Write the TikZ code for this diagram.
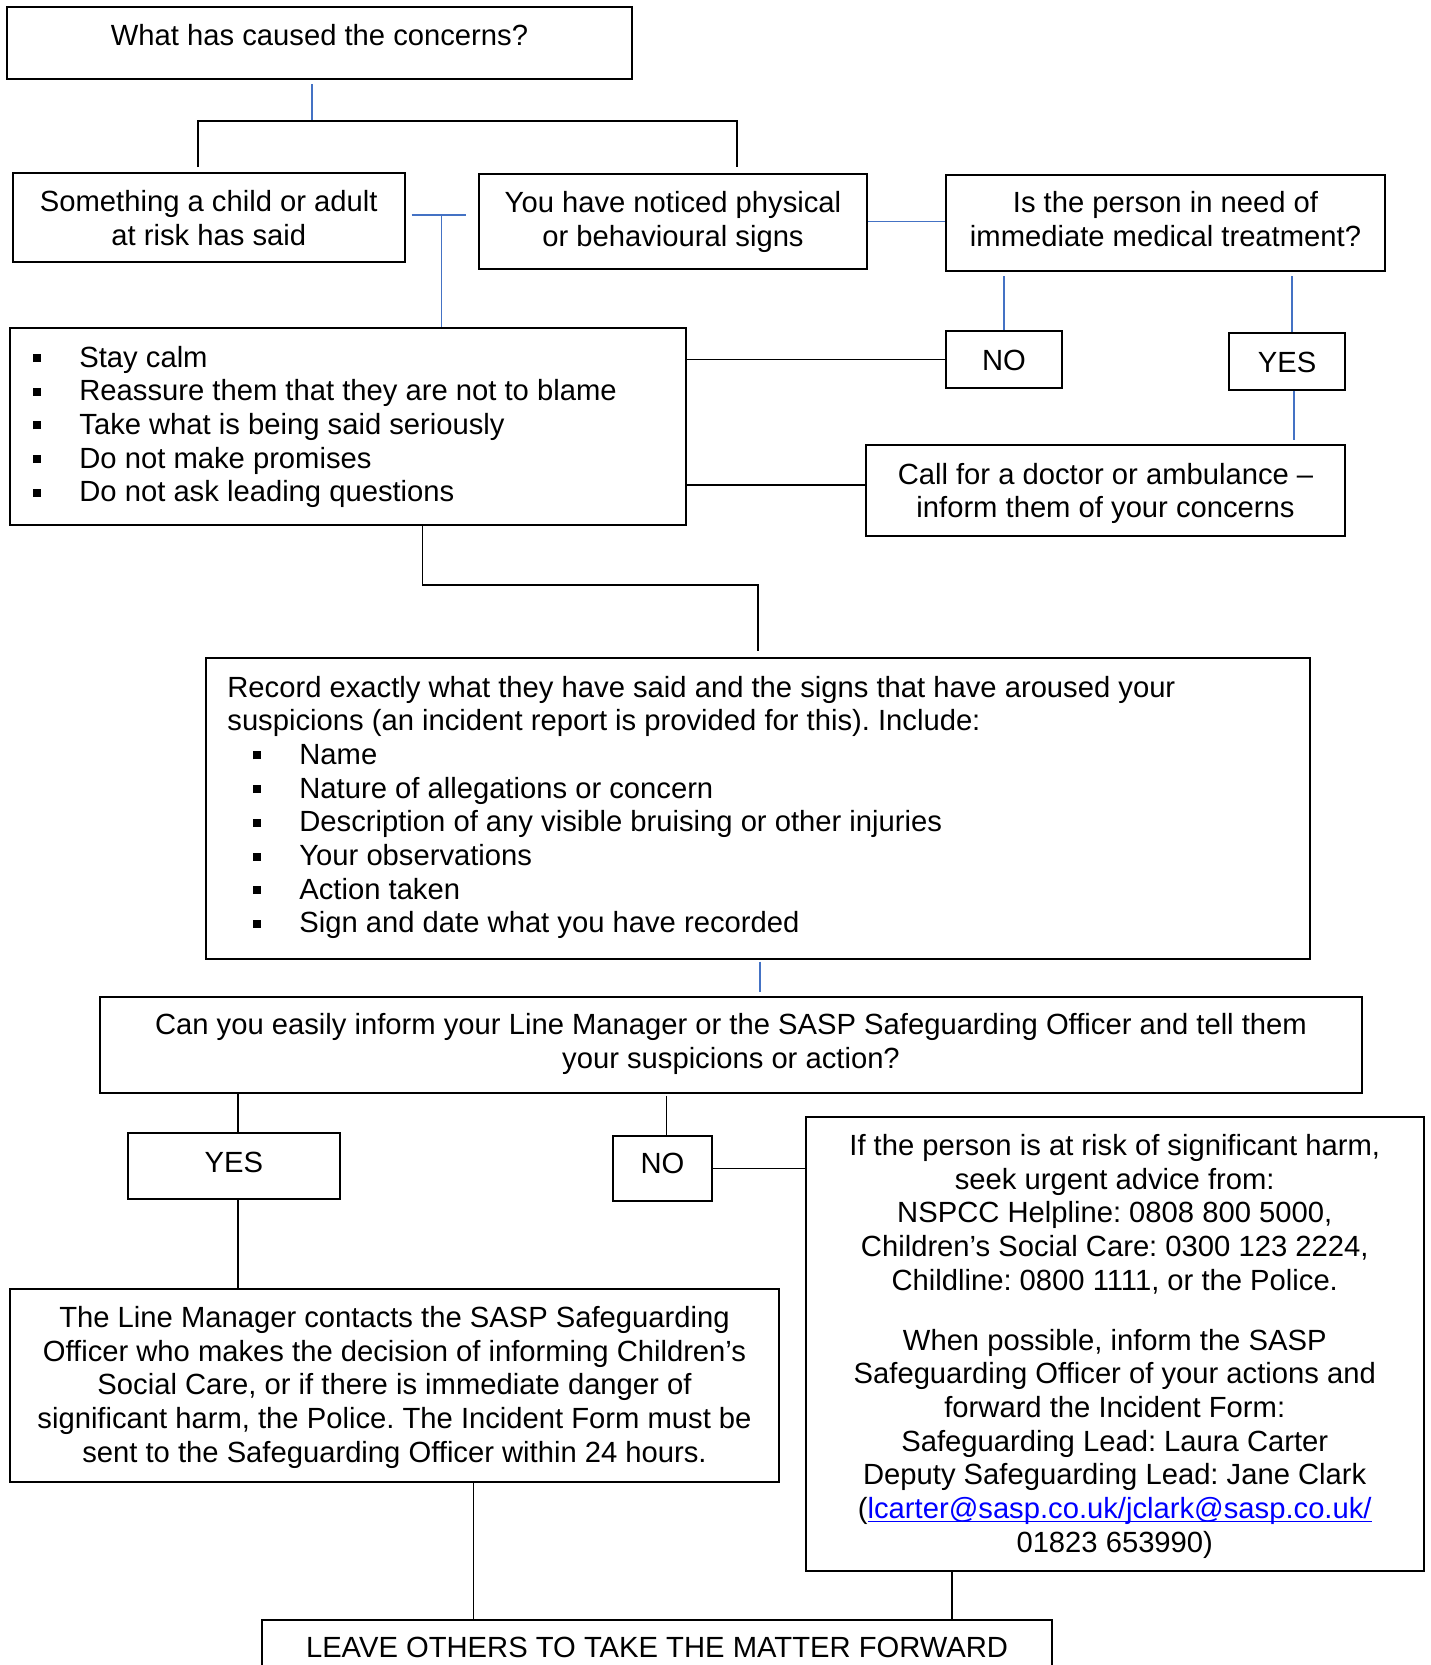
\documentclass[tikz,border=0pt]{standalone}
\usepackage{fontspec}
\setmainfont{Liberation Sans}
\usetikzlibrary{calc}
\definecolor{lineblue}{RGB}{68,114,196}
\definecolor{linkblue}{RGB}{0,0,255}
\newcommand\mlc[1]{\begin{tabular}[t]{@{}c@{}}#1\end{tabular}}
\newcommand\mll[1]{\begin{tabular}[t]{@{}l@{}}#1\end{tabular}}
\newcommand\bul{\makebox[23pt][l]{\rule[2.5pt]{4pt}{4pt}}}
\newcommand\ibul{\hspace*{13pt}\bul}
\newcommand\myul[1]{\setbox0\hbox{#1}\rlap{\rule[-1.8pt]{\wd0}{0.6pt}}\box0}
\frenchspacing
\begin{document}
\begin{tikzpicture}[x=0.5pt,y=-0.5pt,
  box/.style={draw=black, line width=1pt, inner sep=0pt},
  txt/.style={inner sep=0pt, font=\fontsize{14.6}{16.85}\selectfont, anchor=base},
  ltxt/.style={txt, anchor=base west},
  conn/.style={draw=black, line width=0.7pt},
  bconn/.style={draw=lineblue, line width=0.65pt}]
\useasboundingbox (0,0) rectangle (1430,1665);
\clip (0,0) rectangle (1430,1665);
\fill[white] (0,0) rectangle (1430,1665);

% boxes
\node[box, minimum width=312.5pt, minimum height=36pt]   (b1)   at (319.5,43) {};
\node[box, minimum width=195.75pt, minimum height=44.5pt] (b2)  at (208.75,217.5) {};
\node[box, minimum width=194pt, minimum height=47.5pt]   (b3)   at (673,221.5) {};
\node[box, minimum width=219.5pt, minimum height=48pt]   (b4)   at (1165.5,223) {};
\node[box, minimum width=58pt, minimum height=28.5pt]    (no1)  at (1004,359.5) {};
\node[box, minimum width=58pt, minimum height=28.5pt]    (yes1) at (1287,361.5) {};
\node[box, minimum width=239.5pt, minimum height=45.5pt] (call) at (1105.5,490.5) {};
\node[box, minimum width=338pt, minimum height=98.5pt]   (bl)   at (348,426.5) {};
\node[box, minimum width=552pt, minimum height=150.3pt]  (rec)  at (758,808.3) {};
\node[box, minimum width=631pt, minimum height=48.15pt]  (q)    at (731,1044.8) {};
\node[box, minimum width=106.2pt, minimum height=33pt]   (yes2) at (233.8,1166) {};
\node[box, minimum width=49.5pt, minimum height=32.65pt] (no2)  at (662.5,1168.3) {};
\node[box, minimum width=308.75pt, minimum height=226.8pt] (rt) at (1114.75,1343.8) {};
\node[box, minimum width=384.5pt, minimum height=96.5pt] (lm)   at (394.5,1385.5) {};
\node[box, minimum width=395pt, minimum height=45pt]     (leave) at (657,1665) {};

% texts
\node[txt] (t1) at (319.5,45) {What has caused the concerns?};
\node[txt] (t2) at (208.75,211.7) {\mlc{Something a child or adult\\at risk has said}};
\node[txt] (t3) at (673,212.8) {\mlc{You have noticed physical\\or behavioural signs}};
\node[txt] (t4) at (1165.5,212.8) {\mlc{Is the person in need of\\immediate medical treatment?}};
\node[txt] (tno1) at (1004,370) {NO};
\node[txt] (tyes1) at (1287,372) {YES};
\node[txt] (tcall) at (1105.5,484) {\mlc{Call for a doctor or ambulance –\\inform them of your concerns}};
\node[ltxt] (tbl) at (33,367) {\mll{\bul Stay calm\\
\bul Reassure them that they are not to blame\\
\bul Take what is being said seriously\\
\bul Do not make promises\\
\bul Do not ask leading questions}};
\node[ltxt] (trec) at (227,697) {\mll{Record exactly what they have said and the signs that have aroused your\\
suspicions (an incident report is provided for this). Include:\\
\ibul Name\\
\ibul Nature of allegations or concern\\
\ibul Description of any visible bruising or other injuries\\
\ibul Your observations\\
\ibul Action taken\\
\ibul Sign and date what you have recorded}};
\node[txt] (tq) at (731,1034.5) {\mlc{Can you easily inform your Line Manager or the SASP Safeguarding Officer and tell them\\your suspicions or action?}};
\node[txt] (tyes2) at (233.8,1172.5) {YES};
\node[txt] (tno2) at (662.5,1173.5) {NO};
\node[txt] (trt) at (1114.75,1155.5) {\mlc{If the person is at risk of significant harm,\\
seek urgent advice from:\\
NSPCC Helpline: 0808 800 5000,\\
Children’s Social Care: 0300 123 2224,\\
Childline: 0800 1111, or the Police.\\[13pt]
When possible, inform the SASP\\
Safeguarding Officer of your actions and\\
forward the Incident Form:\\
Safeguarding Lead: Laura Carter\\
Deputy Safeguarding Lead: Jane Clark\\
(\textcolor{linkblue}{\myul{lcarter@sasp.co.uk/jclark@sasp.co.uk/}}\\
01823 653990)}};
\node[txt] (tlm) at (394.5,1327.5) {\mlc{The Line Manager contacts the SASP Safeguarding\\
Officer who makes the decision of informing Children’s\\
Social Care, or if there is immediate danger of\\
significant harm, the Police. The Incident Form must be\\
sent to the Safeguarding Officer within 24 hours.}};
\node[txt] (tleave) at (657,1657) {LEAVE OTHERS TO TAKE THE MATTER FORWARD};

% connectors
\coordinate (j1) at (312,121);
\coordinate (barL) at (198,121);
\coordinate (barR) at (737,121);
\draw[bconn, shorten <=2pt] (b1.south -| j1) -- (j1);
\draw[conn, shorten <=2.5pt, shorten >=3pt] (b2.north -| barL) -- (barL) -- (barR) -- (b3.north -| barR);
\coordinate (t23) at (441.7,215);
\draw[bconn, shorten <=3pt, shorten >=6pt] (b2.east |- t23) -- (b3.west |- t23);
\draw[bconn] (t23) -- (bl.north -| t23);
\draw[bconn] (b3.east) -- (b4.west |- b3.east);
\draw[bconn, shorten <=2pt] (b4.south -| no1.north) -- (no1.north);
\coordinate (yx) at ($(yes1.north)+(5,0)$);
\draw[bconn, shorten <=2pt] (b4.south -| yx) -- (yx);
\coordinate (yx2) at ($(yes1.south)+(7,0)$);
\draw[bconn, shorten >=2pt] (yx2) -- (call.north -| yx2);
\draw[conn] (no1.west) -- (bl.east |- no1.west);
\coordinate (cw) at ($(call.west)+(0,-5.5)$);
\draw[conn] (cw) -- (bl.east |- cw);
\coordinate (k1) at (422.5,585);
\coordinate (k2) at (758,585);
\draw[conn, shorten >=3pt] (bl.south -| k1) -- (k1) -- (k2) -- (rec.north -| k2);
\coordinate (rx) at ($(rec.south)+(2,0)$);
\draw[bconn, shorten <=1pt, shorten >=2pt] (rx) -- (q.north -| rx);
\coordinate (yn) at ($(yes2.north)+(4,0)$);
\draw[conn] (q.south -| yn) -- (yn);
\coordinate (ys) at ($(yes2.south)+(4,0)$);
\draw[conn] (ys) -- (lm.north -| ys);
\coordinate (nn) at ($(no2.north)+(4,0)$);
\draw[conn, shorten <=1pt] (q.south -| nn) -- (nn);
\draw[conn] (no2.east) -- (rt.west |- no2.east);
\coordinate (ls) at ($(lm.south)+(79,0)$);
\draw[conn] (ls) -- (leave.north -| ls);
\coordinate (rs) at ($(rt.south)+(-162.75,0)$);
\draw[conn] (rs) -- (leave.north -| rs);
\end{tikzpicture}
\end{document}
